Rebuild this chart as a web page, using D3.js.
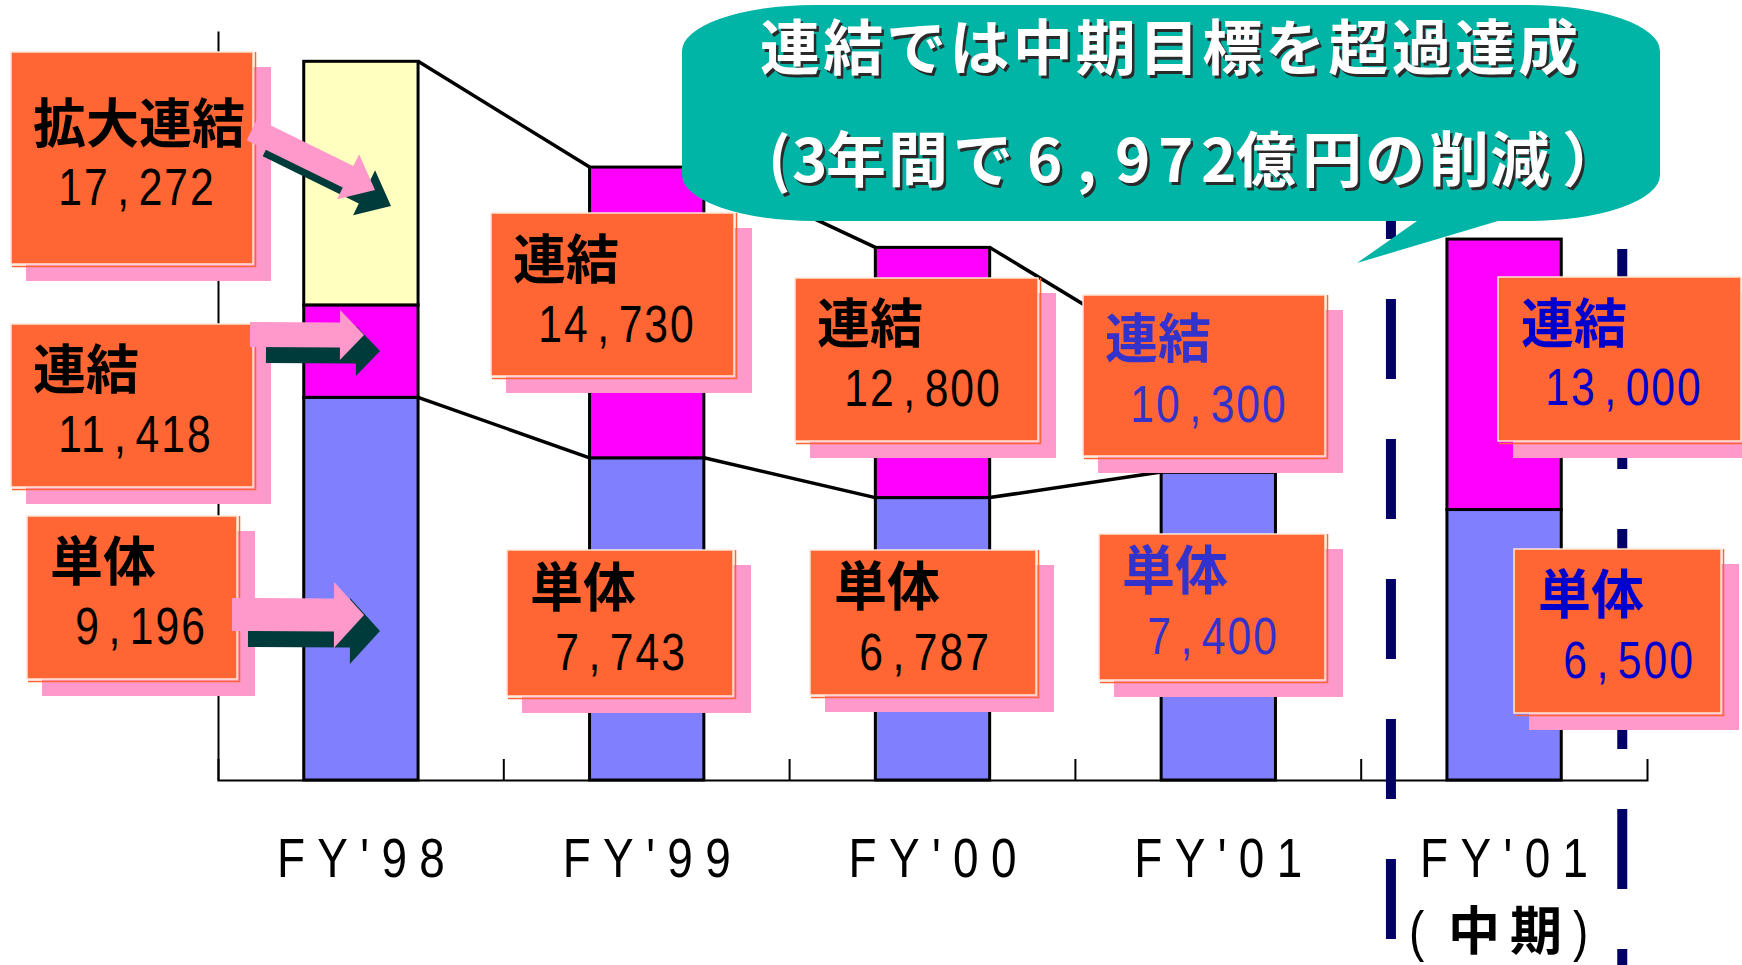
<!DOCTYPE html>
<html>
<head>
<meta charset="utf-8">
<script src="https://cdn.jsdelivr.net/npm/d3@7"></script>
<style>
  html, body { margin: 0; padding: 0; background: #ffffff; }
  svg { display: block; }
  .num { font-family: "Liberation Sans", Arial, sans-serif; font-size: 52px; }
  .cjk { font-family: "Noto Sans CJK JP", "Noto Sans CJK SC", sans-serif; font-weight: 700; }
  .cat { font-family: "Liberation Sans", Arial, sans-serif; font-size: 56px; }
</style>
</head>
<body>
<svg id="chart" width="1742" height="965"></svg>
<script>
// ---- data (億円) ----
const categories = ["FY'98", "FY'99", "FY'00", "FY'01", "FY'01 "];
const subLabels = ["", "", "", "", "中期"];
const singleValues = [9196, 7743, 6787, 7400, 6500];            // 単体
const consolidatedValues = [11418, 14730, 12800, 10300, 13000];  // 連結
const extendedValues = [17272, null, null, null, null];           // 拡大連結
const actualYears = 4;                                            // trend lines join the actual results only
const seriesNames = { ext: "拡大連結", con: "連結", single: "単体" };
const calloutTitle = "連結では中期目標を超過達成";
const calloutNote = ["(", "3", "年", "間", "で", "6", ",", "9", "7", "2", "億", "円", "の", "削", "減", "）"];

// which value each label box reports
const boxSeries = [
  { series: "ext", cat: 0 }, { series: "con", cat: 0 }, { series: "single", cat: 0 },
  { series: "con", cat: 1 }, { series: "single", cat: 1 },
  { series: "con", cat: 2 }, { series: "single", cat: 2 },
  { series: "con", cat: 3 }, { series: "single", cat: 3 },
  { series: "con", cat: 4 }, { series: "single", cat: 4 }
];

// ---- layout ----
const W = 1742, H = 965;
const plot = { left: 218, right: 1647, top: 31, bottom: 780 };
const narrow = 0.82;  // horizontal squeeze for the Latin face
const colors = {
  single: "#8080FF", con: "#FF00FF", ext: "#FFFFC0",
  box: "#FF6633", shadow: "#FF99CC", arrowDark: "#003B3B",
  callout: "#00B4A6", separator: "#000066"
};
const textColorByCat = ["#000000", "#000000", "#000000", "#3333CC", "#0000CC"];

// label box geometry: box rect, title offset/baseline, number ink offset/baseline
const boxLayout = [
  { x: 11,   y: 52,  w: 242, h: 212, tx: 22, ty: 91, nx: 52, ny: 153 },
  { x: 11,   y: 324, w: 242, h: 163, tx: 22, ty: 65, nx: 52, ny: 128 },
  { x: 27,   y: 516, w: 210, h: 163, tx: 23, ty: 65, nx: 50, ny: 128 },
  { x: 491,  y: 213, w: 243, h: 163, tx: 22, ty: 66, nx: 52, ny: 129 },
  { x: 507,  y: 550, w: 226, h: 146, tx: 23, ty: 57, nx: 50, ny: 120 },
  { x: 795,  y: 278, w: 243, h: 163, tx: 22, ty: 65, nx: 54, ny: 128 },
  { x: 810,  y: 550, w: 226, h: 145, tx: 24, ty: 56, nx: 51, ny: 120 },
  { x: 1083, y: 295, w: 242, h: 161, tx: 22, ty: 63, nx: 52, ny: 127 },
  { x: 1099, y: 534, w: 226, h: 146, tx: 23, ty: 56, nx: 50, ny: 120 },
  { x: 1498, y: 277, w: 243, h: 164, tx: 23, ty: 66, nx: 52, ny: 128 },
  { x: 1514, y: 549, w: 207, h: 164, tx: 24, ty: 65, nx: 51, ny: 129 }
];

// block arrows from the FY'98 boxes into the bar
const arrowLayout = [
  { x0: 252, y0: 129.6, x1: 375, y1: 190, shaft: 24, head: 50, headLen: 30 },
  { x0: 250, y0: 334.5, x1: 364, y1: 335, shaft: 25, head: 50, headLen: 24 },
  { x0: 232, y0: 614.5, x1: 364, y1: 615, shaft: 33, head: 66, headLen: 30 }
];

const svg = d3.select("#chart");

const x = d3.scaleBand()
  .domain(categories)
  .range([plot.left, plot.right])
  .paddingInner(0.6)
  .paddingOuter(0.3);

const y = d3.scaleLinear()
  .domain([0, 18000])
  .range([plot.bottom, plot.top]);

// ---- axes ----
const axisG = svg.append("g");
axisG.append("g")
  .attr("transform", `translate(${plot.left},0)`)
  .call(d3.axisLeft(y).tickValues([]).tickSizeOuter(0))
  .call(g => g.select(".domain").attr("stroke", "#000").attr("stroke-width", 2));

axisG.append("g")
  .attr("transform", `translate(0,${plot.bottom})`)
  .call(d3.axisBottom(x).tickValues([]).tickSizeOuter(-21))
  .call(g => g.select(".domain").attr("stroke", "#000").attr("stroke-width", 2));

// category boundary ticks
const step = x.step();
axisG.selectAll("line.boundary")
  .data(d3.range(1, categories.length))
  .join("line")
  .attr("class", "boundary")
  .attr("x1", i => plot.left + i * step)
  .attr("x2", i => plot.left + i * step)
  .attr("y1", plot.bottom)
  .attr("y2", plot.bottom - 21)
  .attr("stroke", "#000")
  .attr("stroke-width", 2);

// ---- stacked bars ----
const segments = [];
categories.forEach((c, i) => {
  segments.push({ cat: c, lo: 0, hi: singleValues[i], fill: colors.single });
  segments.push({ cat: c, lo: singleValues[i], hi: consolidatedValues[i], fill: colors.con });
  if (extendedValues[i] != null)
    segments.push({ cat: c, lo: consolidatedValues[i], hi: extendedValues[i], fill: colors.ext });
});

svg.append("g")
  .selectAll("rect")
  .data(segments)
  .join("rect")
  .attr("x", d => x(d.cat))
  .attr("width", x.bandwidth())
  .attr("y", d => y(d.hi))
  .attr("height", d => y(d.lo) - y(d.hi))
  .attr("fill", d => d.fill)
  .attr("stroke", "#000")
  .attr("stroke-width", 3);

// ---- trend lines joining bar tops (right edge to next left edge) ----
function trendSegments(values) {
  const segs = [];
  for (let i = 0; i < actualYears - 1; i++) {
    const a = categories[i], b = categories[i + 1];
    segs.push([[x(a) + x.bandwidth(), y(values[i])], [x(b), y(values[i + 1])]]);
  }
  return segs;
}
const totals = categories.map((c, i) => extendedValues[i] != null ? extendedValues[i] : consolidatedValues[i]);
const lineGen = d3.line();
svg.append("g")
  .attr("fill", "none").attr("stroke", "#000").attr("stroke-width", 3.5)
  .selectAll("path")
  .data([...trendSegments(totals), ...trendSegments(singleValues)])
  .join("path")
  .attr("d", lineGen);

// ---- separators around the mid-term plan column ----
const planX = x(categories[4]);
const sepG = svg.append("g").attr("stroke", colors.separator).attr("stroke-width", 10)
  .attr("stroke-dasharray", "80 60");
sepG.append("line").attr("x1", planX - 56).attr("x2", planX - 56).attr("y1", 19).attr("y2", 939);
sepG.append("line").attr("x1", planX + x.bandwidth() + 61).attr("x2", planX + x.bandwidth() + 61)
  .attr("y1", 249).attr("y2", H + 80);

// ---- category labels ----
const catG = svg.append("g");
categories.forEach((c, i) => {
  const cx = x(c) + x.bandwidth() / 2;
  catG.append("g")
    .attr("transform", `translate(${cx},877) scale(${narrow},1)`)
    .append("text")
    .attr("class", "cat")
    .attr("text-anchor", "middle")
    .attr("textLength", 168 / narrow)
    .attr("lengthAdjust", "spacing")
    .text(c.trim());
  if (subLabels[i]) {
    const base = 950;
    catG.append("g")
      .attr("transform", `translate(${cx - 95},${base}) scale(${narrow},1)`)
      .append("text").attr("class", "cat").text("(");
    catG.append("g")
      .attr("transform", `translate(${cx + 69},${base}) scale(${narrow},1)`)
      .append("text").attr("class", "cat").text(")");
    catG.append("text")
      .attr("class", "cjk")
      .attr("x", cx - 56)
      .attr("y", base)
      .attr("font-size", 52)
      .attr("letter-spacing", 10)
      .text(subLabels[i]);
  }
});

// ---- label boxes ----
const valueOf = { ext: extendedValues, con: consolidatedValues, single: singleValues };
const fmt = d3.format(",");
const boxG = svg.append("g");
boxSeries.forEach((b, i) => {
  const L = boxLayout[i];
  const value = valueOf[b.series][b.cat];
  const color = textColorByCat[b.cat];
  const g = boxG.append("g");
  g.append("rect")
    .attr("x", L.x + 15).attr("y", L.y + 15)
    .attr("width", L.w + 3).attr("height", L.h + 2)
    .attr("fill", colors.shadow);
  g.append("rect")
    .attr("x", L.x).attr("y", L.y)
    .attr("width", L.w).attr("height", L.h)
    .attr("fill", colors.box)
    .attr("stroke", "#FFE6D8").attr("stroke-width", 1.5);
  g.append("path")
    .attr("d", `M${L.x + 1},${L.y + L.h + 2.5}H${L.x + L.w + 2.5}V${L.y}`)
    .attr("fill", "none").attr("stroke", colors.box).attr("stroke-width", 1.5);
  g.append("text")
    .attr("class", "cjk")
    .attr("x", L.x + L.tx)
    .attr("y", L.y + L.ty)
    .attr("font-size", 53)
    .attr("fill", color)
    .text(seriesNames[b.series]);

  const label = fmt(value);
  const bearing = (label[0] === "1" ? 0.109 : 0.042) * 52 * narrow;
  const t = g.append("g")
    .attr("transform", `translate(${L.x + L.nx - bearing},${L.y + L.ny}) scale(${narrow},1)`)
    .append("text")
    .attr("class", "num")
    .attr("letter-spacing", 2 / narrow)
    .attr("fill", color);
  label.split(",").forEach((p, k) => {
    if (k === 0) { t.append("tspan").text(p); }
    else {
      t.append("tspan").attr("dx", 7.5 / narrow).text(",");
      t.append("tspan").attr("dx", 7.5 / narrow).text(p);
    }
  });
});

// ---- arrows (dark copy offset underneath a pink one) ----
function arrowPath(len, s, hw, hl) {
  return `M0,${-s / 2}H${len - hl}V${-hw / 2}L${len},0L${len - hl},${hw / 2}V${s / 2}H0Z`;
}
const arrowG = svg.append("g");
arrowLayout.forEach(a => {
  const len = Math.hypot(a.x1 - a.x0, a.y1 - a.y0);
  const ang = Math.atan2(a.y1 - a.y0, a.x1 - a.x0) * 180 / Math.PI;
  const d = arrowPath(len, a.shaft, a.head, a.headLen);
  arrowG.append("path").attr("d", d).attr("fill", colors.arrowDark)
    .attr("transform", `translate(${a.x0 + 16},${a.y0 + 16}) rotate(${ang})`);
  arrowG.append("path").attr("d", d).attr("fill", colors.shadow)
    .attr("transform", `translate(${a.x0},${a.y0}) rotate(${ang})`);
});

// ---- callout balloon ----
const cb = { x0: 682, x1: 1660, y0: 5, y1: 221, rx: 132, ry: 46 };
const tail = { right: 1498, left: 1417, tipX: 1357, tipY: 263 };
const calloutPath =
  `M${cb.x0 + cb.rx},${cb.y0}H${cb.x1 - cb.rx}` +
  `A${cb.rx},${cb.ry} 0 0 1 ${cb.x1},${cb.y0 + cb.ry}` +
  `V${cb.y1 - cb.ry}` +
  `A${cb.rx},${cb.ry} 0 0 1 ${cb.x1 - cb.rx},${cb.y1}` +
  `H${tail.right}L${tail.tipX},${tail.tipY}L${tail.left},${cb.y1}` +
  `H${cb.x0 + cb.rx}` +
  `A${cb.rx},${cb.ry} 0 0 1 ${cb.x0},${cb.y1 - cb.ry}` +
  `V${cb.y0 + cb.ry}` +
  `A${cb.rx},${cb.ry} 0 0 1 ${cb.x0 + cb.rx},${cb.y0}Z`;
const calloutG = svg.append("g");
calloutG.append("path").attr("d", calloutPath).attr("fill", colors.callout);

// glyph start positions for the second line (spaced figures)
const noteX = [768, 792, 826, 888, 953, 1027, 1077, 1115, 1158, 1201, 1236, 1302, 1365, 1429, 1490, 1562];
[["#2a2a2a", 2.5], ["#ffffff", 0]].forEach(([fill, off]) => {
  calloutG.append("text")
    .attr("class", "cjk")
    .attr("x", 760 + off)
    .attr("y", 70 + off)
    .attr("font-size", 60)
    .attr("textLength", 818)
    .attr("lengthAdjust", "spacing")
    .attr("fill", fill)
    .text(calloutTitle);
  calloutG.append("text")
    .attr("class", "cjk")
    .attr("x", noteX.map(v => v + off).join(" "))
    .attr("y", 182 + off)
    .attr("font-size", 60)
    .attr("fill", fill)
    .text(calloutNote.join(""));
});
</script>
</body>
</html>
